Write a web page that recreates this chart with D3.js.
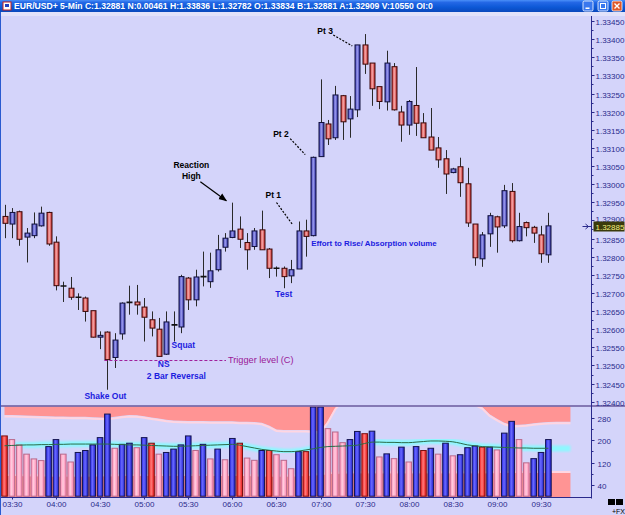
<!DOCTYPE html>
<html>
<head>
<meta charset="utf-8">
<script src="https://cdn.jsdelivr.net/npm/d3@7/dist/d3.min.js"></script>
<style>
body { margin: 0; background: #d4d4fa; overflow: hidden; }
svg { display: block; font-family: 'Liberation Sans', Arial, sans-serif; }
</style>
</head>
<body>
<script>
var width = 625, height = 515;
var axisX = 591.5,
    priceTop = 16, priceBottom = 405.5,
    volTop = 406.5, volBottom = 497.5;

var titleText = 'EUR/USD+ 5-Min C:1.32881 N:0.00461 H:1.33836 L:1.32782 O:1.33834 B:1.32881 A:1.32909 V:10550 OI:0';
var firstBar = '03:25', barMinutes = 5;
var lastPrice = 1.32885;

var open = [1.32911, 1.32890, 1.32924, 1.32854, 1.32858, 1.32885, 1.32922, 1.32840, 1.32719, 1.32713,
    1.32688, 1.32686, 1.32651, 1.32578, 1.32592, 1.32522, 1.32587, 1.32674, 1.32675, 1.32661,
    1.32626, 1.32600, 1.32531, 1.32612, 1.32606, 1.32741, 1.32681, 1.32745, 1.32731, 1.32764,
    1.32826, 1.32853, 1.32876, 1.32839, 1.32828, 1.32874, 1.32821, 1.32768, 1.32768, 1.32747,
    1.32766, 1.32871, 1.32858, 1.33076, 1.33166, 1.33128, 1.33244, 1.33180, 1.33205, 1.33384,
    1.33334, 1.33269, 1.33227, 1.33324, 1.33199, 1.33163, 1.33217, 1.33169, 1.33130, 1.33100,
    1.33070, 1.33032, 1.33048, 1.33001, 1.32890, 1.32794, 1.32863, 1.32910, 1.32885, 1.32980,
    1.32844, 1.32894, 1.32881, 1.32860, 1.32805];
var high = [1.32943, 1.32934, 1.32927, 1.32879, 1.32922, 1.32938, 1.32924, 1.32856, 1.32731, 1.32744,
    1.32699, 1.32690, 1.32651, 1.32594, 1.32594, 1.32589, 1.32674, 1.32720, 1.32722, 1.32686,
    1.32649, 1.32631, 1.32649, 1.32649, 1.32750, 1.32744, 1.32764, 1.32814, 1.32811, 1.32860,
    1.32865, 1.32949, 1.32911, 1.32865, 1.32879, 1.32927, 1.32824, 1.32773, 1.32773, 1.32791,
    1.32897, 1.32902, 1.33076, 1.33289, 1.33177, 1.33271, 1.33246, 1.33243, 1.33384, 1.33414,
    1.33334, 1.33269, 1.33368, 1.33334, 1.33216, 1.33232, 1.33323, 1.33196, 1.33210, 1.33130,
    1.33094, 1.33045, 1.33073, 1.33045, 1.32890, 1.32868, 1.32921, 1.32913, 1.32998, 1.33003,
    1.32921, 1.32897, 1.32885, 1.32885, 1.32921];
var low = [1.32851, 1.32851, 1.32830, 1.32784, 1.32851, 1.32883, 1.32830, 1.32707, 1.32675, 1.32681,
    1.32653, 1.32621, 1.32577, 1.32545, 1.32433, 1.32493, 1.32571, 1.32640, 1.32640, 1.32566,
    1.32580, 1.32525, 1.32529, 1.32566, 1.32589, 1.32653, 1.32663, 1.32718, 1.32714, 1.32759,
    1.32814, 1.32851, 1.32824, 1.32764, 1.32819, 1.32819, 1.32741, 1.32745, 1.32713, 1.32727,
    1.32766, 1.32800, 1.32856, 1.33076, 1.33108, 1.33122, 1.33122, 1.33128, 1.33185, 1.33304,
    1.33216, 1.33207, 1.33203, 1.33203, 1.33117, 1.33136, 1.33133, 1.33128, 1.33094, 1.33045,
    1.32973, 1.33030, 1.32965, 1.32882, 1.32775, 1.32772, 1.32827, 1.32811, 1.32879, 1.32839,
    1.32842, 1.32856, 1.32838, 1.32783, 1.32783];
var close = [1.32892, 1.32922, 1.32848, 1.32865, 1.32890, 1.32920, 1.32835, 1.32720, 1.32719, 1.32688,
    1.32688, 1.32649, 1.32578, 1.32583, 1.32516, 1.32570, 1.32672, 1.32674, 1.32667, 1.32633,
    1.32603, 1.32525, 1.32620, 1.32612, 1.32745, 1.32681, 1.32744, 1.32745, 1.32761, 1.32819,
    1.32851, 1.32871, 1.32848, 1.32819, 1.32871, 1.32819, 1.32768, 1.32768, 1.32745, 1.32764,
    1.32871, 1.32856, 1.33074, 1.33170, 1.33125, 1.33246, 1.33172, 1.33207, 1.33384, 1.33331,
    1.33263, 1.33228, 1.33334, 1.33205, 1.33163, 1.33228, 1.33168, 1.33128, 1.33094, 1.33067,
    1.33028, 1.33042, 1.33004, 1.32893, 1.32797, 1.32860, 1.32913, 1.32882, 1.32982, 1.32844,
    1.32883, 1.32880, 1.32865, 1.32808, 1.32885];

var volume = [215, 202, 183, 150, 133, 127, 177, 202, 150, 122,
    156, 163, 183, 209, 293, 171, 185, 189, 173, 209,
    189, 150, 156, 168, 183, 215, 163, 185, 133, 168,
    130, 206, 189, 136, 128, 163, 163, 148, 128, 98,
    159, 159, 318, 318, 241, 229, 191, 202, 231, 223,
    232, 140, 151, 134, 175, 122, 177, 163, 171, 150,
    189, 144, 148, 173, 179, 175, 175, 165, 225, 267,
    202, 119, 134, 156, 202];
// r = red, p = pink, b = blue
var volKind = ('rpppppbbpp' + 'bbbbbpbbpb' + 'rpbbbbpbpb' + 'pbrppbrppp' + 'brbbpppbbr' +
    'bpbpbpbrbp' + 'bpbbbrbpbb' + 'ppbbb').split('');

// volume envelope + average, run 3 bars past the last bar
var upperBand = [290, 290, 289, 288, 287, 286, 285, 284, 284, 283,
    283, 283, 282, 281, 280, 283, 287, 290, 289, 285,
    281, 277, 273, 270, 269, 268, 268, 268, 267, 267,
    267, 267, 266, 266, 265, 262, 252, 238, 236, 236,
    236, 236, 234, 232, 268, 315, 345, 350, 352, 355,
    356, 356, 355, 352, 350, 348, 346, 345, 345, 344,
    342, 340, 338, 335, 330, 318, 292, 276, 262, 254,
    255, 257, 260, 263, 265, 266, 266, 266];
var lowerBand = [72, 72, 72, 71, 71, 71, 70, 70, 70, 70,
    70, 70, 70, 71, 71, 71, 72, 72, 72, 72,
    72, 72, 72, 72, 72, 72, 72, 72, 72, 72,
    72, 72, 72, 72, 71, 70, 70, 70, 70, 70,
    71, 72, 74, 76, 78, 80, 81, 82, 82, 82,
    82, 82, 82, 82, 82, 82, 82, 82, 82, 82,
    82, 82, 82, 82, 82, 82, 82, 83, 83, 83,
    83, 83, 83, 83, 83, 83, 83, 83];
var volAvg = [180, 181, 182, 183, 183, 184, 184, 185, 185, 186,
    186, 186, 186, 186, 186, 185, 184, 183, 183, 182,
    181, 180, 179, 178, 178, 179, 180, 181, 182, 183,
    184, 185, 182, 177, 172, 167, 164, 161, 159, 159,
    161, 165, 169, 174, 177, 178, 179, 180, 182, 188,
    193, 193, 192, 192, 191, 191, 193, 195, 197, 197,
    196, 194, 189, 183, 180, 177, 176, 175, 174, 173,
    172, 172, 171, 171, 171, 170, 170, 170];

var priceTicks = [1.32400, 1.32450, 1.32500, 1.32550, 1.32600, 1.32650, 1.32700, 1.32750,
    1.32800, 1.32850, 1.32900, 1.32950, 1.33000, 1.33050, 1.33100, 1.33150,
    1.33200, 1.33250, 1.33300, 1.33350, 1.33400, 1.33450];
var volTicks = [40, 120, 200, 280];
var volMinorTicks = [80, 160, 240];
var timeLabels = ['03:30', '04:00', '04:30', '05:00', '05:30', '06:00', '06:30',
    '07:00', '07:30', '08:00', '08:30', '09:00', '09:30'];

var toMin = function(t) { var p = t.split(':'); return +p[0] * 60 + +p[1]; };
var barOf = function(t) { return (toMin(t) - toMin(firstBar)) / barMinutes; };

var x = d3.scaleLinear().domain([0, 74]).range([4.5, 548.4]);
var yp = d3.scaleLinear().domain([1.32400, 1.33450]).range([401.7, 21]);
var yv = d3.scaleLinear().domain([0, 320]).range([496.2, 406.5]);
var fmt = d3.format('.5f');

var svg = d3.select('body').append('svg')
    .attr('width', width)
    .attr('height', height);

var defs = svg.append('defs');
var hGrad = function(id, stops) {
    var g = defs.append('linearGradient').attr('id', id)
        .attr('x1', '0').attr('x2', '1').attr('y1', '0').attr('y2', '0');
    stops.forEach(function(s) {
        g.append('stop').attr('offset', s[0]).attr('stop-color', s[1]);
    });
};
hGrad('cBlue', [['0', '#3434b4'], ['0.45', '#9c9cee'], ['1', '#2a2aa2']]);
hGrad('cRed', [['0', '#d83030'], ['0.45', '#f4a8a8'], ['1', '#c82626']]);
hGrad('vBlue', [['0', '#2020e0'], ['0.45', '#6a6aff'], ['1', '#1a1ac8']]);
hGrad('vPink', [['0', '#ff8cb4'], ['0.45', '#ffccdf'], ['1', '#ff86b0']]);
hGrad('vRed', [['0', '#f41c1c'], ['0.45', '#ff7a7a'], ['1', '#e81414']]);

var tg = defs.append('linearGradient').attr('id', 'titleGrad')
    .attr('x1', '0').attr('x2', '0').attr('y1', '0').attr('y2', '1');
[['0', '#4a90f8'], ['0.2', '#2468e6'], ['0.6', '#0c58d6'], ['1', '#0a48bc']].forEach(function(s) {
    tg.append('stop').attr('offset', s[0]).attr('stop-color', s[1]);
});

defs.append('filter').attr('id', 'glow')
    .append('feGaussianBlur').attr('stdDeviation', 1.2);

defs.append('clipPath').attr('id', 'priceClip')
    .append('rect').attr('x', 0).attr('y', priceTop)
    .attr('width', axisX).attr('height', priceBottom - priceTop);
defs.append('clipPath').attr('id', 'volClip')
    .append('rect').attr('x', 0).attr('y', volTop)
    .attr('width', axisX).attr('height', volBottom - volTop);

defs.append('marker').attr('id', 'arrow')
    .attr('viewBox', '0 0 10 10').attr('refX', 9).attr('refY', 5)
    .attr('markerWidth', 7).attr('markerHeight', 7)
    .attr('orient', 'auto')
    .append('path').attr('d', 'M0,1 L10,5 L0,9 Z').attr('fill', '#000');

// background
svg.append('rect')
    .attr('width', width).attr('height', height)
    .attr('fill', '#d4d4fa');

// ---------- volume panel ----------
var vol = svg.append('g').attr('clip-path', 'url(#volClip)');
var ext = d3.range(upperBand.length);

vol.append('path')
    .attr('d', d3.area().x(function(i) { return x(i); })
        .y0(volTop - 5).y1(function(i) { return yv(upperBand[i]); })(ext))
    .attr('fill', '#ff9494');
vol.append('path')
    .attr('d', d3.line().x(function(i) { return x(i); })
        .y(function(i) { return yv(upperBand[i]) + 1.5; })(ext))
    .attr('fill', 'none').attr('stroke', '#ffd6e2').attr('stroke-width', 2);

vol.append('path')
    .attr('d', d3.area().x(function(i) { return x(i); })
        .y0(volBottom + 2).y1(function(i) { return yv(lowerBand[i]); })(ext))
    .attr('fill', '#ff9494');
vol.append('path')
    .attr('d', d3.line().x(function(i) { return x(i); })
        .y(function(i) { return yv(lowerBand[i]) - 1; })(ext))
    .attr('fill', 'none').attr('stroke', '#ffd6e2').attr('stroke-width', 2);

vol.append('path')
    .attr('d', d3.line().curve(d3.curveMonotoneX)
        .x(function(i) { return x(i); })
        .y(function(i) { return yv(volAvg[i]); })(ext))
    .attr('fill', 'none').attr('stroke', '#8ef8ff').attr('stroke-width', 6)
    .attr('filter', 'url(#glow)');

var volFill = { b: 'url(#vBlue)', p: 'url(#vPink)', r: 'url(#vRed)' };
var volEdge = { b: '#141450', p: '#b86a8c', r: '#7a1010' };
vol.selectAll('rect.vbar')
    .data(volume)
    .enter()
    .append('rect')
    .classed('vbar', true)
    .attr('x', function(d, i) { return x(i) - 2.8; })
    .attr('width', 5.6)
    .attr('y', function(d) { return yv(d); })
    .attr('height', function(d) { return yv(0) - yv(d); })
    .attr('fill', function(d, i) { return volFill[volKind[i]]; })
    .attr('stroke', function(d, i) { return volEdge[volKind[i]]; })
    .attr('stroke-width', 1);

vol.append('path')
    .attr('d', d3.line().curve(d3.curveMonotoneX)
        .x(function(i) { return x(i); })
        .y(function(i) { return yv(volAvg[i]); })(d3.range(volume.length)))
    .attr('fill', 'none').attr('stroke', '#2c6a48').attr('stroke-width', 1);

// ---------- price panel ----------
var price = svg.append('g').attr('clip-path', 'url(#priceClip)');
var idx = d3.range(open.length);

price.selectAll('line.wick')
    .data(idx)
    .enter()
    .append('line')
    .classed('wick', true)
    .attr('x1', function(i) { return Math.round(x(i)) + 0.5; })
    .attr('x2', function(i) { return Math.round(x(i)) + 0.5; })
    .attr('y1', function(i) { return yp(high[i]); })
    .attr('y2', function(i) { return yp(low[i]); })
    .attr('stroke', '#2a2a2a')
    .attr('stroke-width', 1);

var doji = idx.filter(function(i) { return open[i] === close[i]; });
var bodies = idx.filter(function(i) { return open[i] !== close[i]; });

price.selectAll('rect.body')
    .data(bodies)
    .enter()
    .append('rect')
    .classed('body', true)
    .attr('x', function(i) { return Math.round(x(i)) - 2; })
    .attr('width', 5)
    .attr('y', function(i) { return yp(Math.max(open[i], close[i])); })
    .attr('height', function(i) { return Math.max(1, Math.abs(yp(open[i]) - yp(close[i]))); })
    .attr('fill', function(i) { return close[i] > open[i] ? 'url(#cBlue)' : 'url(#cRed)'; })
    .attr('stroke', function(i) { return close[i] > open[i] ? '#10103a' : '#3a0808'; })
    .attr('stroke-width', 1);

price.selectAll('line.doji')
    .data(doji)
    .enter()
    .append('line')
    .classed('doji', true)
    .attr('x1', function(i) { return Math.round(x(i)) - 2.5; })
    .attr('x2', function(i) { return Math.round(x(i)) + 3.5; })
    .attr('y1', function(i) { return yp(close[i]); })
    .attr('y2', function(i) { return yp(close[i]); })
    .attr('stroke', '#111')
    .attr('stroke-width', 1.6);

// ---------- annotations ----------
var note = svg.append('g').attr('font-weight', 'bold').attr('font-size', '8.5px');
var blue = '#1c1ce0';

var dash = function(i, dx1, dy1, dx2, dy2) {
    note.append('line')
        .attr('x1', x(i) + dx1).attr('y1', yp(high[i]) + dy1)
        .attr('x2', x(i) + dx2).attr('y2', yp(high[i]) + dy2)
        .attr('stroke', '#000').attr('stroke-width', 1.2)
        .attr('stroke-dasharray', '2,1.5');
};
var label = function(txt, xx, yy, color, anchor, size) {
    note.append('text')
        .attr('x', xx).attr('y', yy)
        .attr('fill', color)
        .attr('font-size', size || '8.5px')
        .attr('text-anchor', anchor || 'start')
        .text(txt);
};

dash(48, -24, -10, -5, 1);
label('Pt 3', x(48) - 40, yp(high[48]) - 11, '#000');
dash(42, -23, -18, -8, -2);
label('Pt 2', x(42) - 40, yp(high[42]) - 20, '#000');
dash(40, -22, -19, -6, 3);
label('Pt 1', x(40) - 33, yp(high[40]) - 24, '#000');

label('Reaction', x(31) - 41, yp(high[31]) - 35, '#000', 'middle');
label('High', x(31) - 41, yp(high[31]) - 24, '#000', 'middle');
note.append('line')
    .attr('x1', x(31) - 32).attr('y1', yp(high[31]) - 21)
    .attr('x2', x(31) - 6).attr('y2', yp(high[31]) - 2)
    .attr('stroke', '#000').attr('stroke-width', 1.2)
    .attr('marker-end', 'url(#arrow)');

label('Effort to Rise/ Absorption volume', x(42) - 2, yp(low[42]) + 9.5, blue, 'start', '7.9px');
label('Test', x(38), yp(low[38]) + 9, blue, 'middle');
label('Squat', x(23) - 2, yp(low[23]) + 6, blue);
label('NS', x(21) - 1, yp(low[21]) + 11, blue);
label('2 Bar Reversal', x(21) - 12, yp(low[21]) + 23, blue);
label('Shake Out', x(14) - 2, yp(low[14]) + 9, blue, 'middle');

note.append('line')
    .attr('x1', x(14) - 3).attr('x2', x(30) + 1)
    .attr('y1', Math.round(yp(close[14])) + 0.5)
    .attr('y2', Math.round(yp(close[14])) + 0.5)
    .attr('stroke', '#a0209c').attr('stroke-width', 1.2)
    .attr('stroke-dasharray', '3,2');
note.append('text')
    .attr('x', x(30) + 3).attr('y', yp(close[14]) + 3)
    .attr('fill', '#9a1896')
    .attr('font-weight', 'normal')
    .attr('font-size', '9.2px')
    .text('Trigger level (C)');

// ---------- axes ----------
var axisColor = '#2a2a8c';
svg.append('line')
    .attr('x1', 0).attr('x2', width)
    .attr('y1', 406).attr('y2', 406)
    .attr('stroke', '#6a5a9c').attr('stroke-width', 1.5);
svg.append('line')
    .attr('x1', 0).attr('x2', axisX)
    .attr('y1', volBottom).attr('y2', volBottom)
    .attr('stroke', axisColor).attr('stroke-width', 1);
svg.append('line')
    .attr('x1', axisX).attr('x2', axisX)
    .attr('y1', priceTop).attr('y2', volBottom + 1)
    .attr('stroke', axisColor).attr('stroke-width', 1);

var ticks = svg.append('g').attr('font-size', '8px').attr('fill', '#2a2a8c');
var lpY = Math.round(yp(lastPrice)) + 0.5;
priceTicks.forEach(function(p) {
    var yy = Math.round(yp(p)) + 0.5;
    ticks.append('line').attr('x1', axisX).attr('x2', axisX + 3)
        .attr('y1', yy).attr('y2', yy).attr('stroke', axisColor);
    ticks.append('line').attr('x1', axisX).attr('x2', axisX + 2)
        .attr('y1', Math.round(yp(p + 0.00025)) + 0.5).attr('y2', Math.round(yp(p + 0.00025)) + 0.5)
        .attr('stroke', axisColor);
    // the last-price box hides most of the tick label just above it
    ticks.append('text').attr('x', axisX + 4)
        .attr('y', Math.abs(yy - lpY) < 10 ? yy + 1 : yy + 3)
        .text(fmt(p));
});
volTicks.forEach(function(v) {
    var yy = Math.round(yv(v)) + 0.5;
    ticks.append('line').attr('x1', axisX).attr('x2', axisX + 3)
        .attr('y1', yy).attr('y2', yy).attr('stroke', axisColor);
    ticks.append('text').attr('x', axisX + 6).attr('y', yy + 3).text(v);
});
volMinorTicks.forEach(function(v) {
    var yy = Math.round(yv(v)) + 0.5;
    ticks.append('line').attr('x1', axisX).attr('x2', axisX + 2)
        .attr('y1', yy).attr('y2', yy).attr('stroke', axisColor);
});
timeLabels.forEach(function(t) {
    var xx = Math.round(x(barOf(t))) + 0.5;
    ticks.append('line').attr('x1', xx).attr('x2', xx)
        .attr('y1', volBottom).attr('y2', volBottom + 2).attr('stroke', axisColor);
    ticks.append('text').attr('x', xx).attr('y', 507)
        .attr('text-anchor', 'middle').text(t);
});

// last price marker
svg.append('line').attr('x1', axisX - 9).attr('x2', axisX)
    .attr('y1', lpY).attr('y2', lpY).attr('stroke', axisColor);
svg.append('path')
    .attr('d', 'M' + (axisX - 6) + ',' + (lpY - 2.5) + 'L' + (axisX - 3) + ',' + lpY + 'L' + (axisX - 6) + ',' + (lpY + 2.5))
    .attr('fill', 'none').attr('stroke', axisColor);
svg.append('rect')
    .attr('x', axisX + 2).attr('y', lpY - 5)
    .attr('width', 31).attr('height', 10)
    .attr('fill', '#3a3a0c');
svg.append('text')
    .attr('x', axisX + 4).attr('y', lpY + 3)
    .attr('font-size', '8px').attr('fill', '#f4f080')
    .text(fmt(lastPrice));

// corner bits
svg.append('rect').attr('x', 608).attr('y', 499).attr('width', 7).attr('height', 6).attr('fill', '#000');
svg.append('rect').attr('x', 616).attr('y', 499).attr('width', 7).attr('height', 6).attr('fill', '#000');
svg.append('text').attr('x', 612).attr('y', 514).attr('font-size', '7px').attr('fill', '#000').text('+FX');

// ---------- window chrome ----------
svg.append('rect').attr('x', 0).attr('y', 12).attr('width', width).attr('height', 4).attr('fill', '#e2e2fa');
svg.append('rect').attr('x', 0).attr('y', 0).attr('width', width).attr('height', 12)
    .attr('fill', 'url(#titleGrad)');
svg.append('line').attr('x1', 0.5).attr('x2', 0.5).attr('y1', 12).attr('y2', height)
    .attr('stroke', '#2a5ad0').attr('stroke-width', 1);
svg.append('rect').attr('x', 3).attr('y', 2).attr('width', 8).attr('height', 8)
    .attr('fill', '#fff').attr('stroke', '#c02020');
svg.append('rect').attr('x', 5).attr('y', 4).attr('width', 4).attr('height', 3).attr('fill', '#2040c0');
svg.append('text')
    .attr('x', 14).attr('y', 9)
    .attr('font-size', '8.6px').attr('font-weight', 'bold')
    .attr('fill', '#fff')
    .text(titleText);

var btn = function(bx, fill) {
    svg.append('rect').attr('x', bx).attr('y', 1).attr('width', 10).attr('height', 10)
        .attr('rx', 1.5).attr('fill', fill).attr('stroke', '#fff').attr('stroke-width', 0.8);
};
btn(583, '#3a78ee');
svg.append('rect').attr('x', 585.5).attr('y', 7.5).attr('width', 4).attr('height', 1.5).attr('fill', '#fff');
btn(598, '#3a78ee');
svg.append('rect').attr('x', 600.5).attr('y', 3.5).attr('width', 5).attr('height', 5)
    .attr('fill', 'none').attr('stroke', '#fff').attr('stroke-width', 1);
btn(612, '#e0582a');
svg.append('path').attr('d', 'M614.5,3.5L619.5,8.5M619.5,3.5L614.5,8.5')
    .attr('stroke', '#fff').attr('stroke-width', 1.4);
</script>
</body>
</html>
